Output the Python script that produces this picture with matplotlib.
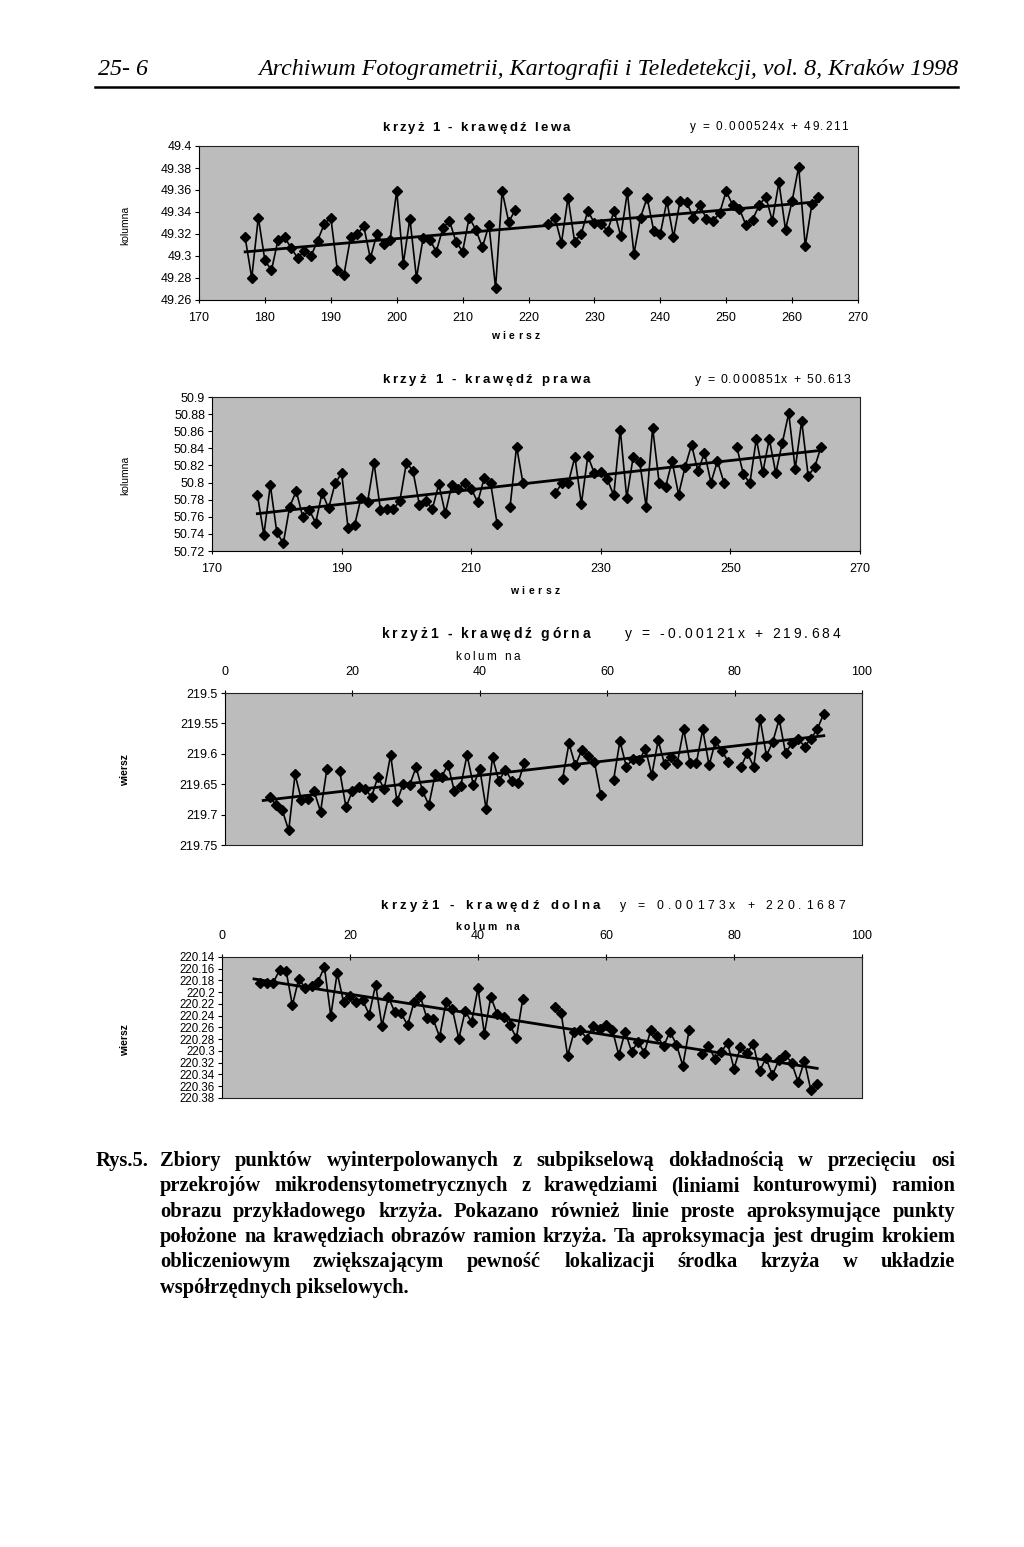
import numpy as np
import matplotlib
matplotlib.use('Agg')
import matplotlib.pyplot as plt

# ---------------- data ----------------
nan = np.nan
wiersz_1 = np.arange(177, 265)
kolumna_lewa = [49.317, 49.280, 49.335, 49.296, 49.287, 49.315, 49.317, 49.307, 49.298, 49.305,
                49.300, 49.314, 49.329, 49.335, 49.287, 49.283, 49.317, 49.320, 49.327, 49.298,
                49.320, 49.311, 49.315, 49.359, 49.293, 49.334, 49.280, 49.316, 49.315, 49.304,
                49.325, 49.332, 49.313, 49.304, 49.335, 49.324, 49.308, 49.328, 49.271, 49.359,
                49.331, 49.342, nan, nan, nan, nan, 49.329, 49.335, 49.312, 49.353,
                49.313, 49.320, 49.341, 49.330, 49.329, 49.323, 49.341, 49.318, 49.358, 49.302,
                49.335, 49.353, 49.323, 49.320, 49.350, 49.317, 49.350, 49.349, 49.335, 49.346,
                49.334, 49.332, 49.339, 49.359, 49.346, 49.343, 49.328, 49.333, 49.346, 49.354,
                49.332, 49.367, 49.324, 49.350, 49.381, 49.309, 49.347, 49.354]
trend_lewa = (0.000524, 49.211)

wiersz_2 = np.arange(177, 265)
kolumna_prawa = [50.786, 50.739, 50.797, 50.742, 50.729, 50.772, 50.790, 50.760, 50.768, 50.753,
                 50.788, 50.770, 50.799, 50.811, 50.747, 50.750, 50.782, 50.777, 50.823, 50.768,
                 50.769, 50.769, 50.779, 50.823, 50.814, 50.774, 50.779, 50.769, 50.798, 50.764,
                 50.797, 50.792, 50.800, 50.793, 50.777, 50.805, 50.799, 50.752, nan, 50.772,
                 50.842, 50.799, nan, nan, nan, nan, 50.788, 50.799, 50.800, 50.830,
                 50.775, 50.831, 50.811, 50.812, 50.804, 50.785, 50.862, 50.782, 50.830, 50.824,
                 50.772, 50.864, 50.800, 50.795, 50.825, 50.786, 50.818, 50.844, 50.813, 50.835,
                 50.800, 50.825, 50.800, nan, 50.841, 50.810, 50.799, 50.851, 50.812, 50.851,
                 50.811, 50.846, 50.881, 50.816, 50.872, 50.808, 50.818, 50.842]
trend_prawa = (0.000851, 50.613)

kolumna_3 = np.arange(7, 95)
wiersz_gorna = [219.671, 219.684, 219.693, 219.726, 219.634, 219.676, 219.674, 219.662, 219.695, 219.625,
                nan, 219.628, 219.688, 219.661, 219.655, 219.658, 219.671, 219.638, 219.658, 219.602,
                219.678, 219.649, 219.651, 219.622, 219.661, 219.684, 219.634, 219.638, 219.618, 219.661,
                219.653, 219.602, 219.652, 219.625, 219.691, 219.606, 219.645, 219.626, 219.644, 219.648,
                219.615, nan, nan, nan, nan, nan, 219.641, 219.583, 219.619, 219.594,
                219.603, 219.614, 219.668, nan, 219.643, 219.579, 219.621, 219.609, 219.611, 219.592,
                219.635, 219.578, 219.617, 219.606, 219.615, 219.560, 219.615, 219.615, 219.560, 219.619,
                219.579, 219.595, 219.613, nan, 219.621, 219.599, 219.621, 219.543, 219.603, 219.580,
                219.543, 219.599, 219.582, 219.576, 219.588, 219.575, 219.559, 219.534]
trend_gorna = (-0.00121, 219.684)

kolumna_4 = np.arange(6, 94)
wiersz_dolna = [220.184, 220.184, 220.184, 220.162, 220.163, 220.222, 220.177, 220.193, 220.190, 220.182,
                220.157, 220.240, 220.167, 220.217, 220.207, 220.217, 220.214, 220.238, 220.187, 220.257,
                220.208, 220.234, 220.236, 220.256, 220.217, 220.207, 220.244, 220.246, 220.276, 220.217,
                220.229, 220.279, 220.232, 220.251, 220.193, 220.271, 220.208, 220.237, 220.242, 220.256,
                220.278, 220.211, nan, nan, nan, nan, 220.225, 220.236, 220.308, 220.268,
                220.264, 220.279, 220.257, 220.262, 220.255, 220.264, 220.307, 220.267, 220.301, 220.284,
                220.303, 220.264, 220.274, 220.292, 220.267, 220.289, 220.325, 220.264, nan, 220.305,
                220.291, 220.313, 220.301, 220.287, 220.330, 220.294, 220.304, 220.288, 220.334, 220.312,
                220.341, 220.316, 220.306, 220.320, 220.352, 220.317, 220.366, 220.357]
trend_dolna = (0.00173, 220.1687)

titles = ["krzyż 1 - krawędź lewa", "krzyż 1 - krawędź prawa",
          "krzyż1 - krawędź górna", "krzyż1 - krawędź dolna"]
equations = ["y = 0.000524x + 49.211", "y = 0.000851x + 50.613",
             "y = -0.00121x + 219.684", "y = 0.00173x + 220.1687"]

header_left = "25- 6"
header_right = "Archiwum Fotogrametrii, Kartografii i Teledetekcji, vol. 8, Kraków 1998"
caption_label = "Rys.5."
caption_lines = [
    "Zbiory punktów wyinterpolowanych z subpikselową dokładnością w przecięciu osi",
    "przekrojów mikrodensytometrycznych z krawędziami (liniami konturowymi) ramion",
    "obrazu przykładowego krzyża. Pokazano również linie proste aproksymujące punkty",
    "położone na krawędziach obrazów ramion krzyża. Ta aproksymacja jest drugim krokiem",
    "obliczeniowym zwiększającym pewność lokalizacji środka krzyża w układzie",
    "współrzędnych pikselowych.",
]

# ---------------- figure ----------------
W, H = 1024, 1547
fig = plt.figure(figsize=(W / 100, H / 100), dpi=100)
fig.patch.set_facecolor('white')
renderer = fig.canvas.get_renderer()
SANS = ['Liberation Sans', 'DejaVu Sans']
SERIF = ['Liberation Serif', 'DejaVu Serif']
BG = '#bcbcbc'


def fx(x):
    return x / W


def fy(y):
    return 1 - y / H


def px_axes(l, t, r, b):
    return fig.add_axes([l / W, 1 - b / H, (r - l) / W, (b - t) / H])


def text_width(s, **kw):
    t = fig.text(0, 0, s, **kw)
    w = t.get_window_extent(renderer).width
    t.remove()
    return w


def spaced(x0, x1, ybase, s, size, weight='bold', family=SANS, color='black'):
    """Draw letter-spaced text spanning x0..x1 (pixels)."""
    widths = []
    for ch in s:
        if ch == ' ':
            widths.append(size * 100 / 72 * 0.28)
        else:
            widths.append(text_width(ch, fontsize=size, weight=weight, family=family))
    gap = (x1 - x0 - sum(widths)) / max(len(s) - 1, 1)
    x = x0
    for ch, w in zip(s, widths):
        if ch != ' ':
            fig.text(fx(x), fy(ybase), ch, fontsize=size, weight=weight, family=family,
                     va='baseline', ha='left', color=color)
        x += w + gap


def fmt(v):
    return f"{v:.3f}".rstrip('0').rstrip('.')


def chart(box, x, y, trend, xlim, xticks, ylim, yticks, top_axis=False, trend_x=None):
    ax = px_axes(*box)
    ax.set_facecolor(BG)
    y = np.asarray(y, dtype=float)
    x = np.asarray(x, dtype=float)
    ax.plot(x, y, color='black', lw=1.2, marker='D', ms=5.0, mfc='black', mec='black', zorder=3)
    tx = np.array([x[0] if trend_x is None else trend_x, x[-1]])
    ax.plot(tx, trend[0] * tx + trend[1], color='black', lw=2.0, zorder=4)
    ax.set_xlim(*xlim)
    ax.set_ylim(*ylim)
    ax.set_xticks(xticks)
    ax.set_yticks(yticks)
    ax.set_xticklabels([str(v) for v in xticks], fontsize=9, family=SANS)
    ax.set_yticklabels([fmt(v) for v in yticks], fontsize=9 if len(yticks) < 12 else 8.3,
                       family=SANS)
    ax.tick_params(axis='y', direction='out', length=3, width=0.8, pad=2)
    ax.tick_params(axis='x', direction='inout', length=5, width=0.8, pad=6)
    for sp in ax.spines.values():
        sp.set_linestyle((0, (1, 1)))
        sp.set_linewidth(0.8)
        sp.set_color('#222222')
    ax.spines['left'].set_linestyle('-')
    ax.spines['left'].set_color('black')
    if top_axis:
        ax.xaxis.tick_top()
        ax.tick_params(axis='x', pad=8)
    else:
        ax.spines['bottom'].set_linestyle('-')
        ax.spines['bottom'].set_color('black')
    return ax


# chart 1
chart((199, 146, 858, 300), wiersz_1, kolumna_lewa, trend_lewa, (170, 270), list(range(170, 271, 10)),
      (49.26, 49.4), [49.26 + 0.02 * i for i in range(8)])
# chart 2
chart((212, 397, 860, 551), wiersz_2, kolumna_prawa, trend_prawa, (170, 270), list(range(170, 271, 20)),
      (50.72, 50.9), [50.72 + 0.02 * i for i in range(10)])
# chart 3
chart((225, 693, 862, 845), kolumna_3, wiersz_gorna, trend_gorna, (0, 100), list(range(0, 101, 20)),
      (219.75, 219.5), [219.5 + 0.05 * i for i in range(6)], top_axis=True, trend_x=6)
# chart 4
chart((222, 957, 862, 1098), kolumna_4, wiersz_dolna, trend_dolna, (0, 100), list(range(0, 101, 20)),
      (220.38, 220.14), [220.14 + 0.02 * i for i in range(13)], top_axis=True, trend_x=5)

# titles and equations
spaced(382, 570, 131, titles[0], 9.5)
spaced(690, 848, 130, equations[0], 8.5, weight='normal')
spaced(382, 590, 383, titles[1], 9.5)
spaced(695, 850, 383, equations[1], 8.8, weight='normal')
spaced(382, 590, 638, titles[2], 10)
spaced(625, 840, 638, equations[2], 10, weight='normal')
spaced(380, 600, 909, titles[3], 9.5)
spaced(620, 845, 909, equations[3], 8.8, weight='normal')

# axis labels
spaced(491, 540, 339, "wiersz", 7.5)
spaced(510, 560, 594, "wiersz", 7.5)
spaced(455, 520, 660, "kolum na", 8.5, weight='normal')
spaced(455, 520, 930, "kolum na", 7.5, weight='bold')
for ytxt, lab in [(225, "kolumna"), (475, "kolumna"), (770, "wiersz"), (1040, "wiersz")]:
    fig.text(fx(125), fy(ytxt), lab, rotation=90, fontsize=7.5, family=SANS,
             ha='center', va='center', weight='bold' if lab == 'wiersz' else 'normal')

# header
hsize = 16
wnat = text_width(header_right, fontsize=hsize, family=SERIF, style='italic')
hsize = hsize * 700 / wnat
fig.text(fx(258), fy(75), header_right, fontsize=hsize, family=SERIF, style='italic', va='baseline')
fig.text(fx(98), fy(75), header_left, fontsize=hsize, family=SERIF, style='italic', va='baseline')
fig.add_artist(plt.Line2D([fx(95), fx(958)], [fy(87), fy(87)], color='black', lw=1.8))

# caption: size chosen so that the densest line fills the column with normal spacing
X0, X1 = 160, 955
csize = 13.5
wdense = text_width(caption_lines[3], fontsize=csize, family=SERIF, weight='bold')
csize = csize * (X1 - X0) * 0.985 / wdense
base0 = 1166
lh = 25.3
fig.text(fx(96), fy(base0), caption_label, fontsize=csize, family=SERIF, weight='bold', va='baseline')
for i, line in enumerate(caption_lines):
    yb = base0 + i * lh
    words = line.split(' ')
    if i == len(caption_lines) - 1:
        fig.text(fx(X0), fy(yb), line, fontsize=csize, family=SERIF, weight='bold', va='baseline')
        continue
    widths = [text_width(w, fontsize=csize, family=SERIF, weight='bold') for w in words]
    gap = (X1 - X0 - sum(widths)) / (len(words) - 1)
    x = X0
    for w, wd in zip(words, widths):
        fig.text(fx(x), fy(yb), w, fontsize=csize, family=SERIF, weight='bold', va='baseline')
        x += wd + gap

fig.savefig('out.png', dpi=100, facecolor='white')
